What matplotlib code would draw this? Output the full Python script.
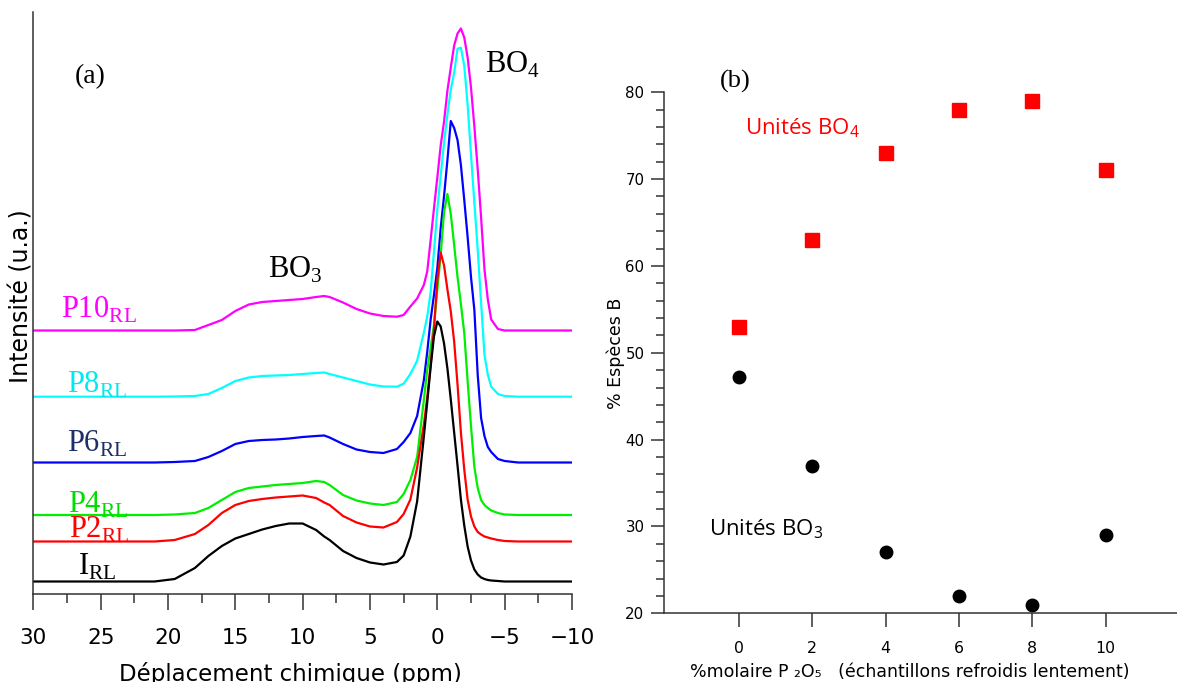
import matplotlib
matplotlib.use("Agg")
import matplotlib.pyplot as plt
from matplotlib.ticker import MultipleLocator, FixedLocator

plt.rcParams['font.family'] = ['DejaVu Sans']
plt.rcParams['mathtext.fontset'] = 'custom'
plt.rcParams['mathtext.rm'] = 'Liberation Serif'
plt.rcParams['mathtext.sf'] = 'Open Sans'

# ---------------- data: panel (a) NMR spectra ----------------
ppm = [30, 25, 21, 19.5, 18, 17, 16, 15, 14, 13, 12, 11, 10, 9, 8.4, 8, 7, 6, 5, 4, 3,
       2.5, 2, 1.5, 1, 0.75, 0.5, 0.25, 0, -0.25, -0.5, -0.75, -1, -1.25, -1.5,
       -1.75, -2, -2.25, -2.5, -2.75, -3, -3.25, -3.5, -3.75, -4, -4.5, -5, -6, -8, -10]

spec_I = [0, 0, 0, 2.5, 13.5, 25.5, 35.5, 43, 47.5, 52, 55.5, 58, 58, 51.5, 45, 41.5, 30.5,
          23.5, 19, 17, 19.5, 26, 45, 80, 145, 179, 214, 245, 260, 255, 238, 213, 182,
          149, 116, 82, 56, 35, 21, 12, 7, 4, 2.5, 1.5, 1, 0.5, 0, 0, 0, 0]
spec_P2 = [0, 0, 0, 1.5, 7.5, 16.5, 28.5, 36.5, 40.5, 42.5, 44, 45, 46, 43.5, 39, 36.5, 25.5,
           19, 15, 14, 19.5, 27.5, 42, 74, 117, 144, 176, 212, 262, 289, 276, 252, 230,
           200, 157, 109, 72, 42, 25, 15, 9.5, 7, 5, 4, 3, 1.5, 0.5, 0, 0, 0]
spec_P4 = [0, 0, 0, 0.5, 2, 7, 15, 23, 27, 28.5, 30, 31, 32, 34, 33, 30, 20,
           14.5, 11.5, 10, 13, 21, 35, 58, 115, 145, 167, 190, 225, 260, 303, 321, 301,
           270, 238, 211, 182, 134, 89, 48, 27, 15, 10, 7, 4.5, 2, 0.5, 0, 0, 0]
spec_P6 = [0, 0, 0, 0.5, 1.5, 5.5, 11.5, 18.5, 21.5, 22.5, 23, 24, 25.5, 26.5, 27, 25, 18.5,
           13, 10.5, 9.5, 13.5, 20.5, 29.5, 46.5, 82.5, 110.5, 142.5, 167.5, 194.5, 234.5,
           266.5, 302.5, 341.5, 334.5, 322.5, 297.5, 262.5, 225.5, 185.5, 152.5, 87.5,
           44.5, 26.5, 15.5, 10.5, 3.5, 1.5, 0, 0, 0]
spec_P8 = [0, 0, 0, 0.2, 0.7, 2.7, 8.7, 15.7, 19.2, 20.7, 21.2, 21.7, 22.7, 23.7, 24.2, 22.7,
           19.2, 15.7, 12.2, 10.2, 10, 13, 22.7, 36, 64, 80, 104, 145, 187, 221, 254, 282,
           307, 324, 348, 349, 331, 292, 242, 194, 147, 94, 42, 22, 10, 2.7, 0.7, 0, 0, 0]
spec_P10 = [0, 0, 0, 0, 0.5, 5.5, 10.5, 19.5, 26, 28.5, 29.5, 30.5, 31.5, 33.5, 34.5, 33.5,
            28, 21.5, 17, 14.5, 13.8, 15.5, 24, 32, 45.5, 59, 90, 122, 153, 185, 209, 240,
            263, 285, 297, 302, 293, 273, 243, 204, 161, 113, 61, 31, 11, 1.5, 0, 0, 0, 0]

spectra = [spec_P10, spec_P8, spec_P6, spec_P4, spec_P2, spec_I]
offsets = [263.5, 197.3, 131.5, 79, 52.5, 12.5]
spec_names = ['P10', 'P8', 'P6', 'P4', 'P2', 'I']
line_colors = ['#ff00ff', '#00ffff', '#0000ff', '#00ee00', '#ff0000', '#000000']
label_colors = ['#ff00ff', '#00e8f0', '#1f2f66', '#00dd00', '#ff0000', '#000000']
x_ticks_a = [30, 25, 20, 15, 10, 5, 0, -5, -10]

# ---------------- data: panel (b) boron species ----------------
p2o5 = [0, 2, 4, 6, 8, 10]
bo4 = [53, 63, 73, 78, 79, 71]
bo3 = [47.2, 37, 27.1, 22, 21, 29]

W, H = 1177, 682
fig = plt.figure(figsize=(W / 100, H / 100), dpi=100)

def fx(px):
    return px / W

def fy(py):
    return 1 - py / H

spine_col = '#333333'

# ---------- panel (a) ----------
ax = fig.add_axes([fx(33.3), fy(594), (572 - 33.3) / W, (594 - 11.7) / H])
for spec, off, col in zip(spectra, offsets, line_colors):
    ax.plot(ppm, [v + off for v in spec], color=col, lw=1.6, solid_joinstyle='round')
ax.set_xlim(30, -10)
ax.set_ylim(0, 594 - 11.7)
for s in ['top', 'right']:
    ax.spines[s].set_visible(False)
for s in ['left', 'bottom']:
    ax.spines[s].set_color(spine_col)
    ax.spines[s].set_linewidth(1.1)
ax.set_yticks([])
ax.xaxis.set_major_locator(FixedLocator(x_ticks_a))
ax.xaxis.set_minor_locator(MultipleLocator(2.5))
ax.tick_params(axis='x', which='major', direction='out', length=11.5, width=1.1,
               color=spine_col, labelsize=15.5, pad=13)
ax.tick_params(axis='x', which='minor', direction='out', length=6.5, width=1.1,
               color=spine_col)

serif = 'Liberation Serif'
fig.text(fx(90), fy(77), '(a)', ha='center', va='center', fontsize=20, family=serif)
fig.text(fx(485), fy(73), r'BO$_{\mathrm{4}}$', ha='left', va='baseline', fontsize=22, family=serif)
fig.text(fx(268), fy(278), r'BO$_{\mathrm{3}}$', ha='left', va='baseline', fontsize=22, family=serif)
label_pos = [(61, 318), (67, 393), (67, 451.7), (68, 513), (69, 538), (78.5, 575)]
for name, col, (lx, ly) in zip(spec_names, label_colors, label_pos):
    fig.text(fx(lx), fy(ly), name + r'$_{\mathrm{RL}}$', ha='left', va='baseline',
             fontsize=22, family=serif, color=col)

fig.text(fx(22), fy(296), 'Intensité (u.a.)', rotation=90, ha='center', va='center', fontsize=17)
fig.text(fx(290), fy(681.5), 'Déplacement chimique (ppm)', ha='center', va='baseline', fontsize=16.5)

# ---------- panel (b) ----------
x0_px, unit_px = 739, 36.65
xl = (663.7 - x0_px) / unit_px
xr = (W - x0_px) / unit_px
bx = fig.add_axes([fx(663.7), fy(613.3), (W - 663.7) / W, (613.3 - 92.3) / H])
bx.plot(p2o5, bo4, 's', color='#ff0000', ms=9.6, mec='#ff0000', clip_on=False)
bx.plot(p2o5, bo3, 'o', color='#000000', ms=9, clip_on=False)
bx.set_xlim(xl, xr)
bx.set_ylim(20, 80)
for s in ['top', 'right']:
    bx.spines[s].set_visible(False)
for s in ['left', 'bottom']:
    bx.spines[s].set_color(spine_col)
    bx.spines[s].set_linewidth(1.1)
bx.xaxis.set_major_locator(FixedLocator(p2o5))
bx.yaxis.set_major_locator(MultipleLocator(10))
bx.yaxis.set_minor_locator(MultipleLocator(2))
bx.tick_params(axis='x', which='major', direction='out', length=10, width=1.1,
               color=spine_col, labelsize=11.3, pad=10)
bx.tick_params(axis='y', which='major', direction='out', length=9.6, width=1.1,
               color=spine_col, labelsize=10.8, pad=4.3)
bx.tick_params(axis='y', which='minor', direction='out', length=5.8, width=1.1,
               color=spine_col)

fig.text(fx(735), fy(81), '(b)', ha='center', va='center', fontsize=19, family=serif)
fig.text(fx(745), fy(134), r'Unités BO$_{\mathsf{4}}$', ha='left', va='baseline',
         fontsize=16, family='Open Sans', color='#ff0000')
fig.text(fx(709), fy(535), r'Unités BO$_{\mathsf{3}}$', ha='left', va='baseline',
         fontsize=16, family='Open Sans', color='#000000')
fig.text(fx(616), fy(353), '% Espèces B', rotation=90, ha='center', va='center', fontsize=12.5)
fig.text(fx(690), fy(677), '%molaire P \u2082O\u2085   (échantillons refroidis lentement)',
         ha='left', va='baseline', fontsize=12.5)

fig.savefig('out.png', dpi=100)
